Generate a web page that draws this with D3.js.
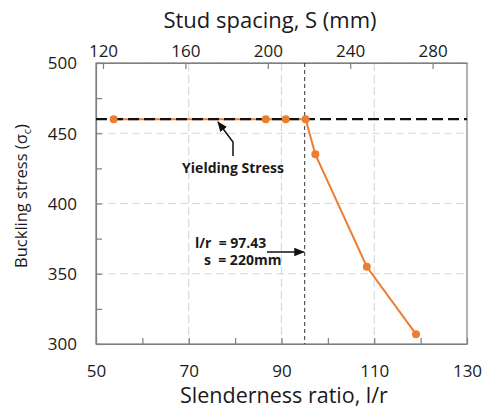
<!DOCTYPE html>
<html><head><meta charset="utf-8">
<script src="https://cdn.jsdelivr.net/npm/d3@7"></script>
<style>body{margin:0;background:#fff}svg{display:block}text{font-family:"Open Sans","Noto Sans",sans-serif;fill:#1a1a1a}</style>
</head><body><svg id="c" width="484" height="410"></svg>
<script>
const slenderness = [53.8, 86.6, 90.9, 95.2, 97.3, 108.4, 119.0];
const stress = [460, 460, 460, 460, 435, 355, 307];
const yieldStress = [460];
const criticalRatio = [95];
const xTicks = [50, 60, 70, 80, 90, 100, 110, 120, 130];
const xTickLabels = [50, 70, 90, 110, 130];
const topTicks = [120, 160, 200, 240, 280];
const yTicks = [300, 325, 350, 375, 400, 425, 450, 475, 500];
const yTickLabels = [300, 350, 400, 450, 500];
const xGrid = [70, 90, 110];
const yGrid = [350, 400, 450, 500];

(function () {
const L = 96, R = 467, T = 63, B = 344;
const svg = d3.select("#c");
const x = d3.scaleLinear().domain([50, 130]).range([L, R]);
const xTop = d3.scaleLinear().domain([116.6, 296.7]).range([L, R]);
const y = d3.scaleLinear().domain([300, 500]).range([B, T]);
const orange = "#ED7D31";

// grid
svg.append("g").selectAll("line").data(xGrid).join("line")
  .attr("x1", d => x(d)).attr("x2", d => x(d)).attr("y1", T).attr("y2", B)
  .attr("stroke", "#d9d9d9").attr("stroke-width", 1.2).attr("stroke-dasharray", "8,4");
svg.append("g").selectAll("line").data(yGrid).join("line")
  .attr("x1", L).attr("x2", R).attr("y1", d => y(d)).attr("y2", d => y(d))
  .attr("stroke", "#d9d9d9").attr("stroke-width", 1.2).attr("stroke-dasharray", "8,4");

// frame
svg.append("rect").attr("x", L).attr("y", T).attr("width", R - L).attr("height", B - T)
  .attr("fill", "none").attr("stroke", "#7f7f7f").attr("stroke-width", 1.2);

// axes
const axBottom = svg.append("g").attr("transform", `translate(0,${B})`)
  .call(d3.axisBottom(x).tickValues(xTicks).tickSizeInner(-6).tickSizeOuter(0)
    .tickFormat(d => xTickLabels.includes(d) ? d : ""));
const axTop = svg.append("g").attr("transform", `translate(0,${T})`)
  .call(d3.axisTop(xTop).tickValues(topTicks).tickSizeInner(-6).tickSizeOuter(0));
const axLeft = svg.append("g").attr("transform", `translate(${L},0)`)
  .call(d3.axisLeft(y).tickValues(yTicks).tickSizeInner(-6).tickSizeOuter(0)
    .tickFormat(d => yTickLabels.includes(d) ? d : ""));
[axBottom, axTop, axLeft].forEach(g => {
  g.select(".domain").attr("stroke", "#7f7f7f").attr("stroke-width", 1.2);
  g.selectAll(".tick line").attr("stroke", "#7f7f7f").attr("stroke-width", 1.2);
  g.selectAll(".tick text").attr("font-size", 17).attr("fill", "#1a1a1a")
    .style("font-family", '"Open Sans","Noto Sans",sans-serif');
});
axBottom.selectAll(".tick text").attr("dy", null).attr("y", 33);
axTop.selectAll(".tick text").attr("y", -6);
axLeft.selectAll(".tick text").attr("x", -19).attr("dy", "0.35em");

// critical vertical line
svg.append("line").attr("x1", x(criticalRatio[0])).attr("x2", x(criticalRatio[0]))
  .attr("y1", T).attr("y2", B).attr("stroke", "#333").attr("stroke-width", 1)
  .attr("stroke-dasharray", "4,3");

// data line
const pts = slenderness.map((s, i) => [s, stress[i]]);
svg.append("path").datum(pts)
  .attr("d", d3.line().x(d => x(d[0])).y(d => y(d[1])))
  .attr("fill", "none").attr("stroke", orange).attr("stroke-width", 2);

// yield line
svg.append("line").attr("x1", L).attr("x2", R)
  .attr("y1", y(yieldStress[0])).attr("y2", y(yieldStress[0]))
  .attr("stroke", "#111").attr("stroke-width", 2.2).attr("stroke-dasharray", "11,5");

// markers
svg.append("g").selectAll("circle").data(pts).join("circle")
  .attr("cx", d => x(d[0])).attr("cy", d => y(d[1])).attr("r", 4)
  .attr("fill", orange);

// arrow marker
svg.append("defs").append("marker").attr("id", "ah")
  .attr("viewBox", "0 0 10 10").attr("refX", 9).attr("refY", 5)
  .attr("markerWidth", 7).attr("markerHeight", 7).attr("orient", "auto-start-reverse")
  .append("path").attr("d", "M0,1 L10,5 L0,9 z").attr("fill", "#111");

// Yielding stress annotation
svg.append("path").attr("d", "M233,156 L233,142 L218,122")
  .attr("fill", "none").attr("stroke", "#111").attr("stroke-width", 1.5)
  .attr("marker-end", "url(#ah)");
svg.append("text").attr("x", 233).attr("y", 173).attr("text-anchor", "middle")
  .attr("font-size", 14).attr("font-weight", "bold").text("Yielding Stress");

// critical annotation
svg.append("text").attr("x", 195).attr("y", 248).attr("font-size", 14)
  .attr("font-weight", "bold").attr("xml:space", "preserve").text("l/r  = 97.43");
svg.append("text").attr("x", 204).attr("y", 265).attr("font-size", 14)
  .attr("font-weight", "bold").attr("xml:space", "preserve").text("s  = 220mm");
svg.append("line").attr("x1", 267).attr("x2", x(criticalRatio[0]) - 1)
  .attr("y1", 252).attr("y2", 252).attr("stroke", "#111").attr("stroke-width", 1.5)
  .attr("marker-end", "url(#ah)");

// titles
svg.append("text").attr("x", 270).attr("y", 28).attr("text-anchor", "middle")
  .attr("font-size", 22).text("Stud spacing, S (mm)");
svg.append("text").attr("x", 284).attr("y", 403).attr("text-anchor", "middle")
  .attr("font-size", 21.5).text("Slenderness ratio, l/r");
const yt = svg.append("text").attr("transform", "translate(27,196) rotate(-90)")
  .attr("text-anchor", "middle").attr("font-size", 16.5);
yt.append("tspan").text("Buckling stress (σ");
yt.append("tspan").attr("font-size", 11).attr("dy", 4).text("c");
yt.append("tspan").attr("dy", -4).text(")");
})();
</script></body></html>
